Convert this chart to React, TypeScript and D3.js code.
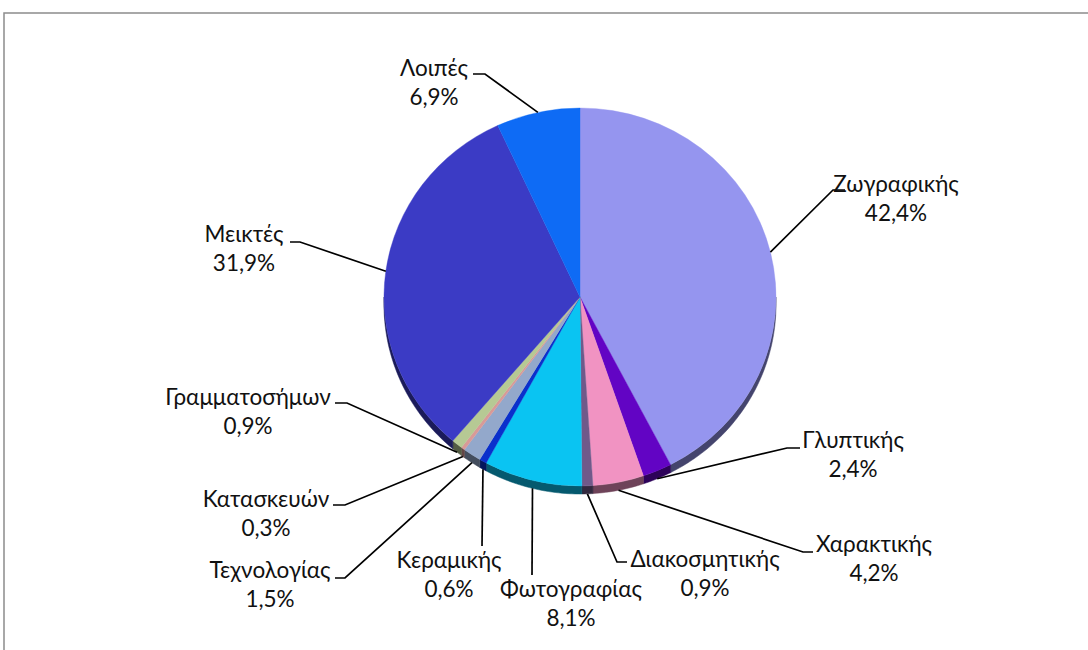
import React from "react";
import * as d3 from "d3";

const categories = [
  "Ζωγραφικής",
  "Γλυπτικής",
  "Χαρακτικής",
  "Διακοσμητικής",
  "Φωτογραφίας",
  "Κεραμικής",
  "Τεχνολογίας",
  "Κατασκευών",
  "Γραμματοσήμων",
  "Μεικτές",
  "Λοιπές",
];
const values = [42.4, 2.4, 4.2, 0.9, 8.1, 0.6, 1.5, 0.3, 0.9, 31.9, 6.9];
const colors = [
  "#9595EF",
  "#6204C4",
  "#F193C2",
  "#70598A",
  "#0AC4F2",
  "#0A30CC",
  "#93A8CB",
  "#D89A98",
  "#B6C994",
  "#3B3BC5",
  "#0E6BF5",
];

// label layout: text centre x, first-line baseline y
const labelPos: [number, number][] = [
  [896, 192],
  [853, 448],
  [874, 552],
  [705, 567],
  [571, 597],
  [449, 568],
  [270, 578],
  [266, 507],
  [248, 405],
  [244, 242],
  [434, 76],
];
// leader line bends after the slice point
const leaderPts: [number, number][][] = [
  [[833, 190], [845, 190]],
  [[787, 448], [800, 448]],
  [[803, 552], [813, 552]],
  [[617, 562], [627, 562]],
  [[532, 575]],
  [[482, 546]],
  [[345, 578], [335, 578]],
  [[345, 505], [333, 505]],
  [[347, 403], [335, 403]],
  [[300, 242], [290, 242]],
  [[485, 74], [473, 74]],
];

const W = 1088;
const H = 650;
const cx = 580;
const cy = 297;
const rx = 196;
const ry = 189;
const depth = 8;
const FONT = "Lato, 'Noto Sans', sans-serif";
const FS = 22.5;

export default function App() {
  const pie = d3
    .pie<number>()
    .sort(null)
    .value((d) => d)
    .startAngle(0)
    .endAngle(2 * Math.PI);
  const arcs = pie(values);
  const arcGen = d3.arc<d3.PieArcDatum<number>>().innerRadius(0).outerRadius(rx);

  const px = (a: number) => cx + rx * Math.sin(a);
  const py = (a: number) => cy - ry * Math.cos(a);

  const sidePath = (a0: number, a1: number) => {
    const s = Math.max(a0, Math.PI / 2);
    const e = Math.min(a1, (3 * Math.PI) / 2);
    if (e <= s) return null;
    const n = Math.max(2, Math.ceil(((e - s) * 180) / Math.PI));
    const top: [number, number][] = [];
    for (let i = 0; i <= n; i++) {
      const t = s + ((e - s) * i) / n;
      top.push([px(t), py(t)]);
    }
    const bottom = top.map(([x, y]) => [x, y + depth] as [number, number]).reverse();
    return d3.line()([...top, ...bottom]) + "Z";
  };

  const fmt = (v: number) => v.toFixed(1).replace(".", ",") + "%";

  return (
    <svg
      width={W}
      height={H}
      style={{ position: "absolute", left: 0, top: 0, background: "#fff" }}
    >
      <rect x={4} y={13} width={1200} height={800} fill="#fff" stroke="#8c8c8c" strokeWidth={1.5} />
      {/* side walls */}
      <g>
        {arcs.map((a, i) => {
          const p = sidePath(a.startAngle, a.endAngle);
          if (!p) return null;
          const c = d3.color(colors[i])!.darker(2.2).formatHex();
          return <path key={"s" + i} d={p} fill={c} stroke={c} strokeWidth={0.5} />;
        })}
      </g>
      {/* top face */}
      <g transform={`translate(${cx},${cy}) scale(1,${ry / rx})`}>
        {arcs.map((a, i) => (
          <path key={"t" + i} d={arcGen(a) || ""} fill={colors[i]} stroke={colors[i]} strokeWidth={0.4} />
        ))}
      </g>
      {/* leader lines */}
      <g fill="none" stroke="#000" strokeWidth={1.7}>
        {arcs.map((a, i) => {
          const m = (a.startAngle + a.endAngle) / 2;
          const sx = px(m);
          const sy = py(m) + (Math.cos(m) < 0 ? depth : 0);
          const pts: [number, number][] = [[sx, sy], ...leaderPts[i]];
          return <path key={"l" + i} d={d3.line()(pts) || ""} />;
        })}
      </g>
      {/* labels */}
      <g fontFamily={FONT} fontSize={FS} fill="#111" textAnchor="middle">
        {categories.map((c, i) => (
          <text key={"x" + i} x={labelPos[i][0]} y={labelPos[i][1]}>
            <tspan x={labelPos[i][0]}>{c}</tspan>
            <tspan x={labelPos[i][0]} dy={29}>
              {fmt(values[i])}
            </tspan>
          </text>
        ))}
      </g>
    </svg>
  );
}
